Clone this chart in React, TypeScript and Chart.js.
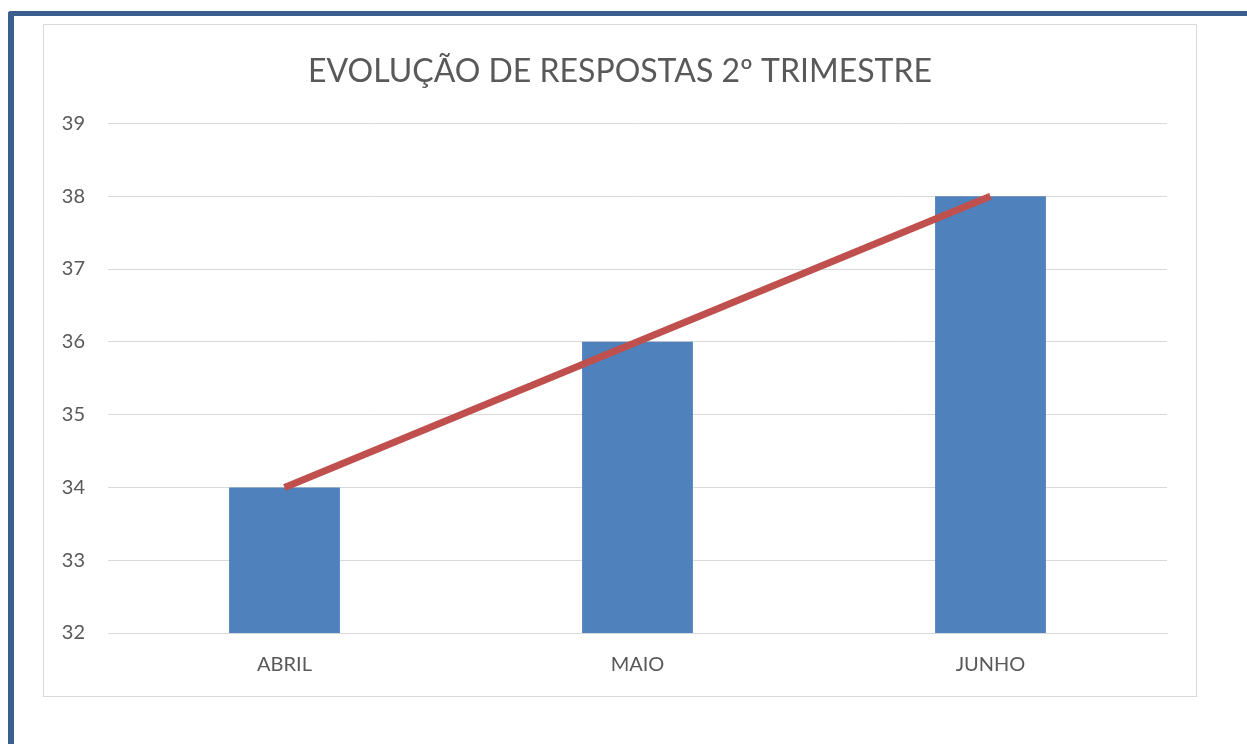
import React, { useEffect, useRef } from "react";
import { Chart, registerables } from "chart.js";

Chart.register(...registerables);

const TITLE = "EVOLUÇÃO DE RESPOSTAS 2º TRIMESTRE";
const categories = ["ABRIL", "MAIO", "JUNHO"];
const barValues = [34, 36, 38];
const lineValues = [34, 36, 38];
const yMin = 32;
const yMax = 39;

export default function App() {
  const ref = useRef<HTMLCanvasElement | null>(null);

  useEffect(() => {
    if (!ref.current) return;
    const chart = new Chart(ref.current, {
      type: "bar",
      data: {
        labels: categories,
        datasets: [
          {
            type: "line",
            label: "Tendência",
            data: lineValues,
            borderColor: "#C0504D",
            backgroundColor: "#C0504D",
            borderWidth: 7,
            pointRadius: 0,
            borderCapStyle: "butt",
            tension: 0,
            order: 0,
          } as any,
          {
            type: "bar",
            label: "Respostas",
            data: barValues,
            backgroundColor: "#4F81BD",
            borderWidth: 0,
            categoryPercentage: 1,
            barPercentage: 0.314,
            order: 1,
          },
        ],
      },
      options: {
        animation: false,
        responsive: false,
        maintainAspectRatio: false,
        layout: { padding: { top: 22, right: 0, bottom: 0, left: 0 } },
        plugins: {
          legend: { display: false },
          tooltip: { enabled: false },
          title: {
            display: true,
            text: TITLE,
            color: "#595959",
            font: { family: "Lato", size: 32, weight: "normal" },
            padding: { top: 5, bottom: 33 },
          },
        },
        scales: {
          x: {
            grid: { display: false, drawTicks: false },
            border: { display: true, color: "#D9D9D9", width: 1 },
            ticks: {
              color: "#595959",
              font: { family: "Lato", size: 20 },
              padding: 20,
            },
            afterFit: (s: any) => {
              s.height = 63;
            },
          },
          y: {
            min: yMin,
            max: yMax,
            grid: { color: "#D9D9D9", lineWidth: 1, drawTicks: false },
            border: { display: false },
            ticks: {
              stepSize: 1,
              color: "#595959",
              font: { family: "Lato", size: 20 },
              padding: 23,
            },
            afterFit: (s: any) => {
              s.width = 64;
            },
          },
          yRight: {
            type: "linear",
            position: "right",
            display: true,
            grid: { display: false, drawTicks: false },
            border: { display: false },
            ticks: { display: false },
            afterFit: (s: any) => {
              s.width = 29;
            },
          },
        },
      },
    });
    return () => chart.destroy();
  }, []);

  return (
    <div
      style={{
        position: "fixed",
        left: 0,
        top: 0,
        width: 1247,
        height: 744,
        background: "#FFFFFF",
        overflow: "hidden",
      }}
    >
      <div
        style={{
          position: "absolute",
          left: 8,
          top: 11,
          width: 1300,
          height: 800,
          borderLeft: "6px solid #3B5F8E",
          borderTop: "5px solid #3B5F8E",
          borderTopLeftRadius: 3,
        }}
      />
      <div
        style={{
          position: "absolute",
          left: 43,
          top: 24,
          width: 1152,
          height: 671,
          border: "1px solid #D9D9D9",
          background: "#FFFFFF",
        }}
      >
        <canvas ref={ref} width={1152} height={671} style={{ display: "block" }} />
      </div>
    </div>
  );
}
